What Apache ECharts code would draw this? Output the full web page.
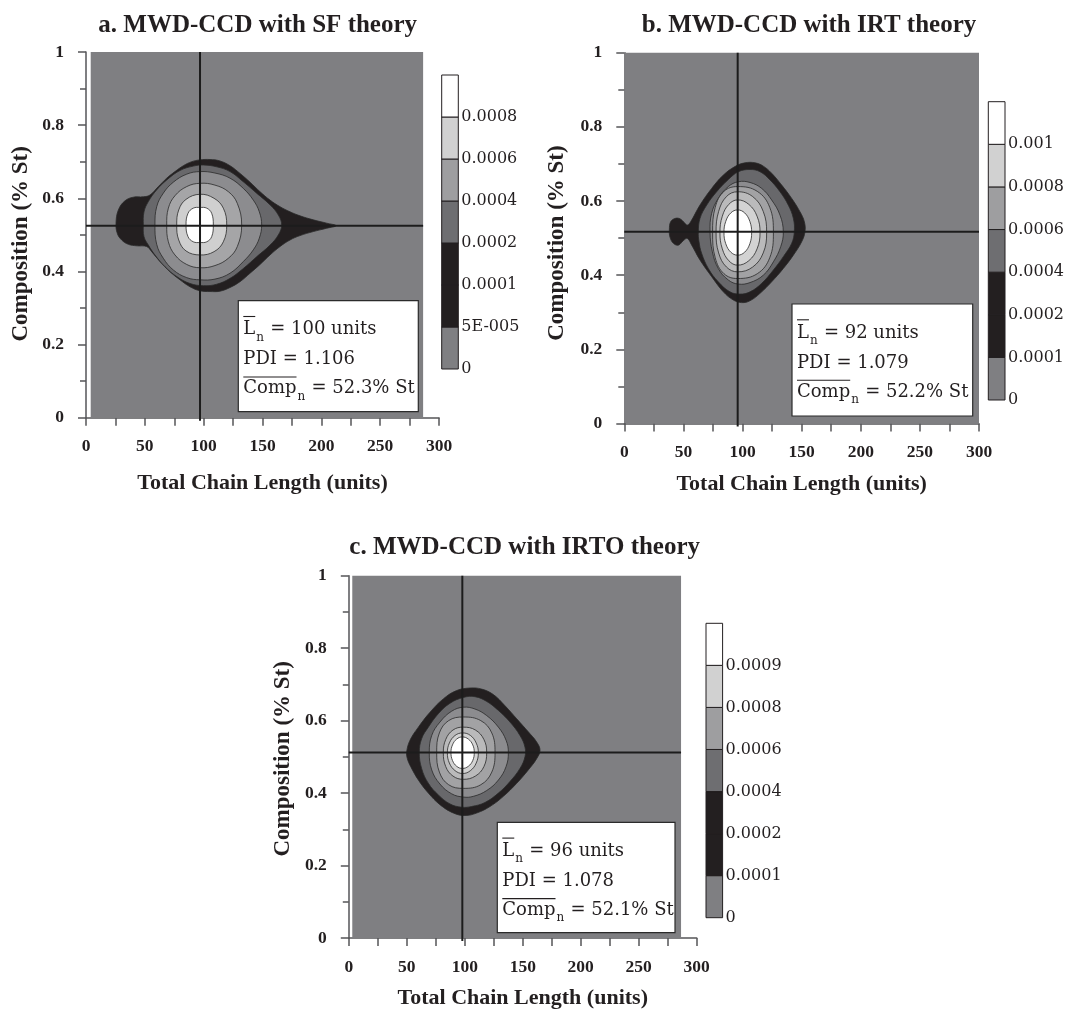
<!DOCTYPE html>
<html>
<head>
<meta charset="utf-8">
<title>MWD-CCD contour maps</title>
<script src="https://cdn.jsdelivr.net/npm/echarts@6.0.0/dist/echarts.min.js"></script>
<style>
  html, body { margin: 0; padding: 0; background: #ffffff; }
  #chart { width: 1067px; height: 1010px; }
</style>
</head>
<body>
<div id="chart"></div>
<script>
// ---------------- text and values ----------------
const panelTitles = ['a. MWD-CCD with SF theory', 'b. MWD-CCD with IRT theory', 'c. MWD-CCD with IRTO theory'];
const xAxisTitle = 'Total Chain Length (units)';
const yAxisTitle = 'Composition (% St)';
const lengthTicks = [0, 50, 100, 150, 200, 250, 300];
const compTicks = [0, 0.2, 0.4, 0.6, 0.8, 1];

// averages printed in each inset
const meanLength = [100, 92, 96];
const pdiValues = ['1.106', '1.079', '1.078'];
const meanComp = ['52.3', '52.2', '52.1'];

// distribution peak (crosshair position)
const peakLength = [96.9, 95.9, 97.9];
const peakComp = [0.525, 0.517, 0.512];

// chain-length range covered by the computed field
const fieldLength = [[4, 286.5], [1, 300], [3, 286.5]];

// colour-scale level labels, bottom to top
const levelLabelsSF = ['0', '5E-005', '0.0001', '0.0002', '0.0004', '0.0006', '0.0008'];
const levelLabelsIRT = ['0', '0.0001', '0.0002', '0.0004', '0.0006', '0.0008', '0.001'];
const levelLabelsIRTO = ['0', '0.0001', '0.0002', '0.0004', '0.0006', '0.0008', '0.0009'];

// contour outlines as [chain length, composition], outermost first
const sfRing1 = [[25.5,0.532],[27.5,0.568],[33.1,0.593],[40.2,0.603],[48.7,0.604],[54.4,0.609],[61.5,0.632],[68.6,0.655],[75.6,0.673],[82.7,0.689],[89.8,0.700],[96.9,0.705],[105.4,0.706],[113.9,0.702],[122.4,0.689],[130.9,0.668],[139.4,0.644],[147.9,0.618],[156.4,0.595],[164.9,0.577],[173.4,0.563],[181.9,0.552],[193.2,0.541],[204.5,0.532],[212.5,0.525],[204.5,0.518],[193.2,0.509],[181.9,0.498],[173.4,0.486],[164.9,0.468],[156.4,0.445],[147.9,0.419],[139.4,0.395],[130.9,0.372],[122.4,0.356],[113.9,0.346],[105.4,0.345],[96.9,0.347],[88.4,0.358],[79.9,0.377],[71.4,0.399],[62.9,0.427],[55.8,0.454],[51.6,0.468],[43.1,0.470],[36.0,0.474],[30.3,0.486],[26.6,0.504]];
const sfRing2 = [[48.7,0.527],[49.3,0.563],[53.0,0.591],[60.1,0.623],[68.6,0.650],[79.9,0.676],[91.2,0.688],[99.7,0.691],[111.1,0.686],[122.4,0.673],[133.7,0.645],[145.0,0.614],[156.4,0.582],[163.5,0.554],[166.3,0.527],[163.5,0.500],[156.4,0.472],[145.0,0.440],[133.7,0.408],[122.4,0.381],[111.1,0.365],[99.7,0.361],[88.4,0.367],[77.1,0.386],[67.1,0.413],[58.6,0.445],[53.0,0.472],[49.3,0.495]];
const sfRing3 = [[58.6,0.527],[60.1,0.577],[65.7,0.614],[74.2,0.644],[85.6,0.666],[96.9,0.673],[109.6,0.669],[122.4,0.655],[133.7,0.627],[142.2,0.595],[147.3,0.563],[149.3,0.527],[147.3,0.491],[142.2,0.459],[133.7,0.427],[122.4,0.395],[109.6,0.379],[96.9,0.377],[85.6,0.383],[74.2,0.404],[65.7,0.436],[60.1,0.474]];
const sfRing4 = [[68.6,0.527],[70.0,0.573],[75.6,0.607],[85.6,0.632],[96.9,0.641],[109.6,0.636],[121.0,0.618],[128.6,0.586],[132.3,0.527],[128.6,0.468],[121.0,0.436],[109.6,0.416],[96.9,0.410],[85.6,0.419],[75.6,0.445],[70.0,0.481]];
const sfRing5 = [[77.1,0.527],[78.8,0.568],[85.0,0.597],[96.9,0.611],[108.8,0.600],[116.7,0.573],[119.6,0.527],[116.7,0.481],[108.8,0.454],[96.9,0.445],[85.0,0.456],[78.8,0.486]];
const sfRing6 = [[85.0,0.527],[86.7,0.559],[91.2,0.573],[96.9,0.575],[102.6,0.573],[106.8,0.559],[108.2,0.527],[106.8,0.495],[102.6,0.481],[96.9,0.479],[91.2,0.481],[86.7,0.495]];

const irtRing1 = [[38.1,0.522],[39.2,0.544],[42.9,0.553],[47.1,0.552],[51.3,0.540],[53.3,0.535],[56.1,0.544],[64.0,0.589],[73.9,0.634],[83.8,0.670],[93.6,0.693],[102.1,0.703],[110.6,0.703],[117.6,0.694],[124.6,0.675],[133.1,0.643],[141.6,0.607],[148.6,0.571],[152.3,0.544],[152.8,0.517],[150.0,0.490],[143.0,0.454],[134.5,0.418],[124.6,0.382],[114.8,0.351],[106.3,0.331],[99.3,0.326],[92.2,0.333],[83.8,0.355],[73.9,0.396],[64.0,0.441],[57.0,0.481],[53.3,0.499],[49.9,0.493],[45.7,0.481],[41.5,0.486],[38.7,0.502]];
const irtRing2 = [[62.6,0.517],[64.0,0.553],[69.7,0.589],[78.1,0.625],[88.0,0.658],[96.5,0.679],[106.3,0.685],[114.8,0.679],[123.2,0.657],[131.7,0.625],[138.7,0.589],[143.0,0.553],[143.8,0.517],[141.6,0.486],[134.5,0.450],[126.1,0.414],[116.2,0.378],[106.3,0.355],[97.9,0.349],[89.4,0.355],[79.5,0.382],[71.1,0.418],[65.4,0.459],[63.2,0.490]];
const irtRing3 = [[72.5,0.517],[73.9,0.567],[79.5,0.607],[88.0,0.639],[96.5,0.652],[106.3,0.650],[116.2,0.634],[124.6,0.603],[131.7,0.562],[134.5,0.517],[132.3,0.477],[126.1,0.436],[117.6,0.400],[106.3,0.380],[96.5,0.376],[88.0,0.387],[79.5,0.418],[74.5,0.463]];
const irtRing4 = [[126.1,0.515],[123.0,0.583],[112.5,0.626],[95.9,0.639],[84.3,0.626],[76.9,0.583],[74.7,0.515],[76.9,0.447],[84.3,0.404],[95.9,0.391],[112.5,0.404],[123.0,0.447]];
const irtRing5 = [[120.4,0.515],[117.5,0.572],[108.6,0.612],[95.9,0.625],[86.4,0.612],[79.8,0.572],[77.6,0.515],[79.8,0.460],[86.4,0.422],[95.9,0.409],[108.6,0.422],[117.5,0.460]];
const irtRing6 = [[114.8,0.515],[112.3,0.559],[105.3,0.591],[95.9,0.603],[88.4,0.591],[82.9,0.559],[80.9,0.515],[82.9,0.471],[88.4,0.439],[95.9,0.427],[105.3,0.439],[112.3,0.471]];
const irtRing7 = [[107.7,0.515],[106.2,0.545],[101.8,0.568],[95.9,0.576],[90.1,0.568],[85.8,0.545],[84.3,0.515],[85.8,0.485],[90.1,0.462],[95.9,0.454],[101.8,0.462],[106.2,0.485]];

const irtoRing1 = [[49.9,0.514],[52.8,0.546],[60.0,0.582],[70.0,0.623],[81.5,0.660],[93.0,0.683],[104.5,0.690],[114.6,0.687],[124.6,0.672],[134.7,0.641],[144.8,0.605],[154.8,0.569],[162.0,0.541],[164.9,0.518],[162.0,0.495],[154.8,0.464],[144.8,0.427],[133.3,0.391],[121.8,0.363],[110.3,0.345],[100.2,0.338],[90.1,0.345],[78.6,0.368],[68.6,0.400],[60.0,0.436],[53.4,0.473],[50.5,0.495]];
const irtoRing2 = [[60.8,0.512],[62.8,0.550],[68.6,0.582],[77.2,0.619],[87.3,0.648],[98.8,0.664],[108.8,0.666],[118.9,0.653],[129.0,0.628],[139.0,0.596],[147.6,0.559],[151.9,0.527],[151.9,0.500],[147.6,0.468],[139.0,0.432],[129.0,0.400],[117.4,0.374],[105.9,0.363],[97.3,0.361],[87.3,0.370],[77.2,0.395],[68.6,0.427],[62.8,0.468]];
const irtoRing3 = [[69.4,0.512],[71.5,0.559],[78.6,0.596],[88.7,0.626],[98.8,0.637],[108.8,0.632],[118.9,0.614],[129.0,0.582],[135.6,0.546],[137.6,0.512],[135.6,0.473],[129.0,0.436],[118.9,0.407],[107.4,0.391],[98.8,0.389],[88.7,0.398],[78.6,0.425],[71.5,0.464]];
const irtoRing4 = [[126.1,0.512],[123.3,0.566],[113.8,0.600],[98.8,0.610],[86.1,0.600],[78.1,0.566],[75.8,0.512],[78.1,0.458],[86.1,0.423],[98.8,0.413],[113.8,0.423],[123.3,0.458]];
const irtoRing5 = [[118.9,0.512],[116.5,0.548],[109.2,0.574],[98.8,0.582],[89.8,0.574],[83.6,0.548],[81.5,0.512],[83.6,0.473],[89.8,0.447],[98.8,0.438],[109.2,0.447],[116.5,0.473]];
const irtoRing6 = [[111.7,0.511],[109.9,0.538],[104.9,0.559],[98.2,0.566],[91.6,0.559],[86.7,0.538],[85.0,0.511],[86.7,0.483],[91.6,0.462],[98.2,0.454],[104.9,0.462],[109.9,0.483]];
const irtoRing7 = [[108.2,0.512],[106.9,0.533],[103.1,0.549],[97.9,0.555],[93.0,0.549],[89.4,0.533],[88.1,0.512],[89.4,0.490],[93.0,0.474],[97.9,0.468],[103.1,0.474],[106.9,0.490]];

// ---------------- styling ----------------
const ink = '#231f20';
const axisGrey = '#555558';
const fieldGrey = '#7f7f82';
const fillsSF = ['#231f20', '#68686b', '#8c8c8f', '#a5a5a7', '#cfcfcf', '#ffffff'];
const fillsIRT = ['#231f20', '#68686b', '#8c8c8f', '#a2a2a4', '#bababb', '#d3d3d3', '#ffffff'];
const scaleColors = ['#7f7f82', '#231f20', '#231f20', '#6e6e71', '#9e9ea0', '#d1d1d1', '#ffffff'];

const panels = [
  { rings: [sfRing1, sfRing2, sfRing3, sfRing4, sfRing5, sfRing6], fills: fillsSF, labels: levelLabelsSF,
    grid: { left: 86, top: 52, width: 353, height: 365.7 },
    bar: { left: 441.7, top: 75, width: 16.6, height: 294 },
    box: [238.3, 300.7, 180, 111], titleX: 257.7, titleBase: 33.3,
    xGap: 55, yGap: 53, yShift: 9 },
  { rings: [irtRing1, irtRing2, irtRing3, irtRing4, irtRing5, irtRing6, irtRing7], fills: fillsIRT, labels: levelLabelsIRT,
    grid: { left: 624.3, top: 52.7, width: 354.7, height: 370.8 },
    bar: { left: 988.3, top: 101.7, width: 16.7, height: 298.3 },
    box: [792, 304, 180.7, 112], titleX: 809, titleBase: 33.3,
    xGap: 50, yGap: 56, yShift: 5 },
  { rings: [irtoRing1, irtoRing2, irtoRing3, irtoRing4, irtoRing5, irtoRing6, irtoRing7], fills: fillsIRT, labels: levelLabelsIRTO,
    grid: { left: 348.8, top: 575.7, width: 347.9, height: 365.3 },
    bar: { left: 706, top: 623.3, width: 16.6, height: 294.4 },
    box: [497.3, 822.3, 177.7, 110.4], titleX: 524.7, titleBase: 555,
    xGap: 49, yGap: 54, yShift: 2 }
];

const boldFont = 'Liberation Serif';
const plainFont = 'DejaVu Serif';
const bodySize = 18;
const subSize = 12;

const measureCtx = document.createElement('canvas').getContext('2d');
function textWidth(str, size) {
  measureCtx.font = size + "px '" + plainFont + "'";
  return measureCtx.measureText(str).width;
}
function textEl(str, x, baseline, size) {
  return {
    type: 'text', x: x, y: baseline - 0.3 * size, z: 100,
    style: { text: str, fontFamily: plainFont, fontSize: size, fill: ink,
             align: 'left', verticalAlign: 'middle', textAlign: 'left', textVerticalAlign: 'middle' }
  };
}
function overline(x, w, y) {
  return { type: 'line', z: 100, shape: { x1: x, y1: y, x2: x + w, y2: y }, style: { stroke: ink, lineWidth: 1.1 } };
}
function statsBox(i) {
  const [bx, by, bw, bh] = panels[i].box;
  const tx = bx + 5;
  const rows = [by + 34.3, by + 64.3, by + 93.3];
  const wL = textWidth('L', bodySize);
  const wC = textWidth('Comp', bodySize);
  const wn = textWidth('n', subSize);
  return [
    { type: 'rect', z: 99, shape: { x: bx, y: by, width: bw, height: bh },
      style: { fill: '#ffffff', stroke: '#2b2b2b', lineWidth: 1.2 } },
    textEl('L', tx, rows[0], bodySize),
    overline(tx, wL, rows[0] - 18.5),
    textEl('n', tx + wL + 1, rows[0] + 6, subSize),
    textEl(' = ' + meanLength[i] + ' units', tx + wL + wn + 1.5, rows[0], bodySize),
    textEl('PDI = ' + pdiValues[i], tx, rows[1], bodySize),
    textEl('Comp', tx, rows[2], bodySize),
    overline(tx, wC, rows[2] - 17),
    textEl('n', tx + wC + 1, rows[2] + 6, subSize),
    textEl(' = ' + meanComp[i] + '% St', tx + wC + wn + 1.5, rows[2], bodySize)
  ];
}

const axisLineStyle = { color: axisGrey, width: 1.5 };
const tickLabelStyle = { fontFamily: boldFont, fontWeight: 'bold', fontSize: 17.5, color: ink };
const xNameStyle = { fontFamily: boldFont, fontWeight: 'bold', fontSize: 22, color: ink };
const yNameStyle = { fontFamily: boldFont, fontWeight: 'bold', fontSize: 23, color: ink };

const grid = [], xAxis = [], yAxis = [], series = [], title = [], graphicEls = [];

panels.forEach((p, i) => {
  const main = 2 * i, bar = 2 * i + 1;
  grid.push(Object.assign({ containLabel: false }, p.grid));
  grid.push(Object.assign({ containLabel: false }, p.bar));

  xAxis.push({
    type: 'value', gridIndex: main,
    min: lengthTicks[0], max: lengthTicks[lengthTicks.length - 1], interval: lengthTicks[1] - lengthTicks[0],
    name: xAxisTitle, nameLocation: 'middle', nameGap: p.xGap, nameTextStyle: xNameStyle,
    axisLine: { show: true, onZero: false, lineStyle: axisLineStyle },
    axisTick: { show: true, length: 8, lineStyle: axisLineStyle },
    minorTick: { show: true, splitNumber: 2, length: 8, lineStyle: axisLineStyle },
    splitLine: { show: false }, minorSplitLine: { show: false },
    axisLabel: Object.assign({ margin: 20, showMinLabel: true, showMaxLabel: true }, tickLabelStyle)
  });
  yAxis.push({
    type: 'value', gridIndex: main,
    min: compTicks[0], max: compTicks[compTicks.length - 1], interval: compTicks[1] - compTicks[0],
    name: yAxisTitle, nameLocation: 'middle', nameGap: p.yGap, nameRotate: 90,
    nameTextStyle: Object.assign({ padding: [0, 2 * p.yShift, 0, 0] }, yNameStyle),
    axisLine: { show: true, onZero: false, lineStyle: axisLineStyle },
    axisTick: { show: true, length: 8, lineStyle: axisLineStyle },
    minorTick: { show: true, splitNumber: 2, length: 6, lineStyle: axisLineStyle },
    splitLine: { show: false }, minorSplitLine: { show: false },
    axisLabel: Object.assign({ margin: 22, showMinLabel: true, showMaxLabel: true,
      formatter: v => String(Math.round(v * 10) / 10) }, tickLabelStyle)
  });

  // colour scale axes
  xAxis.push({ type: 'value', gridIndex: bar, min: 0, max: 1, show: false });
  yAxis.push({
    type: 'value', gridIndex: bar, min: 0, max: p.labels.length, interval: 1, position: 'right',
    axisLine: { show: false }, axisTick: { show: false }, splitLine: { show: false },
    axisLabel: { margin: 3, showMinLabel: true, showMaxLabel: true,
      fontFamily: plainFont, fontSize: 16, color: ink,
      formatter: v => (p.labels[v] !== undefined ? p.labels[v] : '') }
  });

  // computed field background
  series.push({
    type: 'custom', xAxisIndex: main, yAxisIndex: main, z: 1, silent: true,
    data: [[fieldLength[i][0], compTicks[0], fieldLength[i][1], compTicks[compTicks.length - 1]]],
    encode: { x: [0, 2], y: [1, 3] },
    renderItem: (params, api) => {
      const a = api.coord([api.value(0), api.value(1)]);
      const b = api.coord([api.value(2), api.value(3)]);
      return { type: 'rect', shape: { x: a[0], y: b[1], width: b[0] - a[0], height: a[1] - b[1] },
               style: { fill: fieldGrey } };
    }
  });

  // filled contour bands
  series.push({
    type: 'custom', xAxisIndex: main, yAxisIndex: main, z: 2, silent: true,
    data: p.rings.map(r => [r[0][0], r[0][1]]),
    renderItem: (params, api) => {
      const ring = p.rings[params.dataIndex];
      const pts = ring.map(pt => api.coord(pt));
      return { type: 'polygon', shape: { points: pts, smooth: 0.4 },
               style: { fill: p.fills[params.dataIndex], stroke: '#2a2a2a', lineWidth: 0.8 } };
    }
  });

  // crosshair through the peak
  series.push({
    type: 'line', xAxisIndex: main, yAxisIndex: main, z: 4, silent: true, clip: false,
    symbol: 'none', lineStyle: { color: '#1c1c1c', width: 2 },
    data: [[peakLength[i], -0.008], [peakLength[i], compTicks[compTicks.length - 1]]]
  });
  series.push({
    type: 'line', xAxisIndex: main, yAxisIndex: main, z: 4, silent: true, clip: false,
    symbol: 'none', lineStyle: { color: '#1c1c1c', width: 2 },
    data: [[lengthTicks[0], peakComp[i]], [fieldLength[i][1], peakComp[i]]]
  });

  // colour scale (black-on-black edge stays invisible)
  series.push({
    type: 'custom', xAxisIndex: bar, yAxisIndex: bar, z: 2, silent: true,
    data: p.labels.map((_, k) => [0, k]),
    renderItem: (params, api) => {
      const k = api.value(1);
      const p0 = api.coord([0, k]);
      const p1 = api.coord([1, k + 1]);
      return { type: 'rect', shape: { x: p0[0], y: p1[1], width: p1[0] - p0[0], height: p0[1] - p1[1] },
               style: { fill: scaleColors[k], stroke: ink, lineWidth: 1 } };
    }
  });

  title.push({
    text: panelTitles[i], left: p.titleX, top: p.titleBase - 20, textAlign: 'center', padding: 0,
    textStyle: { fontFamily: boldFont, fontWeight: 'bold', fontSize: 25, color: ink }
  });

  graphicEls.push(...statsBox(i));
});

const chart = echarts.init(document.getElementById('chart'), null, { renderer: 'canvas', width: 1067, height: 1010 });
chart.setOption({
  backgroundColor: '#ffffff',
  animation: false,
  title: title,
  grid: grid,
  xAxis: xAxis,
  yAxis: yAxis,
  series: series,
  graphic: { elements: graphicEls }
});
</script>
</body>
</html>
